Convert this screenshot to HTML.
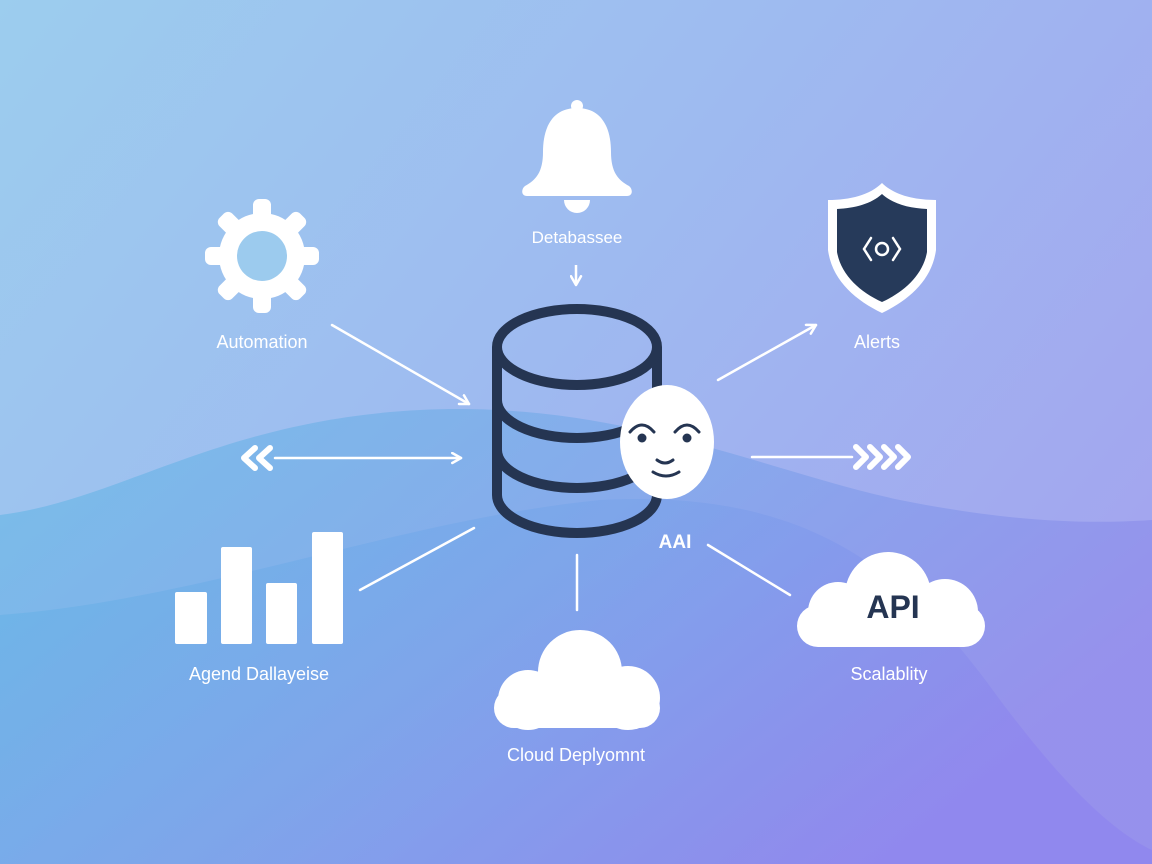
<!DOCTYPE html>
<html><head><meta charset="utf-8"><style>
html,body{margin:0;padding:0;width:1152px;height:864px;overflow:hidden}
svg{display:block}
text{font-family:"Liberation Sans",sans-serif;fill:#fff}
</style></head><body>
<svg width="1152" height="864" viewBox="0 0 1152 864" xmlns="http://www.w3.org/2000/svg">
<defs>
<linearGradient id="bg" x1="0" y1="0" x2="1" y2="0.6">
<stop offset="0" stop-color="#9ccdee"/><stop offset="0.5" stop-color="#9ebbf0"/><stop offset="1" stop-color="#a3a6ef"/>
</linearGradient>
<linearGradient id="low" x1="0" y1="0" x2="1" y2="0.5">
<stop offset="0" stop-color="#6fbde7"/><stop offset="0.5" stop-color="#80a8ea"/><stop offset="1" stop-color="#938cec"/>
</linearGradient>
<linearGradient id="low2" x1="0" y1="0" x2="1" y2="0.4">
<stop offset="0" stop-color="#5db5e4"/><stop offset="0.5" stop-color="#76a0ea"/><stop offset="1" stop-color="#8b80ee"/>
</linearGradient>
<marker id="ah" viewBox="0 0 10 10" refX="8" refY="5" markerWidth="5" markerHeight="5" orient="auto">
<path d="M1 1 L8 5 L1 9" fill="none" stroke="#fff" stroke-width="2" stroke-linecap="round" stroke-linejoin="round"/>
</marker>
</defs>
<rect width="1152" height="864" fill="url(#bg)"/>
<path d="M0 515 C120 500 220 420 420 410 C620 400 760 470 900 500 C1000 520 1080 525 1152 520 L1152 864 L0 864 Z" fill="url(#low)" opacity="0.8"/>
<path d="M0 615 C200 600 400 520 600 500 C800 490 900 560 1000 700 C1060 780 1110 830 1152 850 L1152 864 L0 864 Z" fill="url(#low2)" opacity="0.5"/>

<!-- Bell -->
<g fill="#fff">
<circle cx="577" cy="106" r="6"/>
<path d="M577 108 C552 108 543 128 543 152 C543 172 536 180 525 186 C521 189 521 196 527 196 L627 196 C633 196 633 189 629 186 C618 180 611 172 611 152 C611 128 602 108 577 108 Z"/>
<path d="M564 200 A13 13 0 0 0 590 200 Z"/>
</g>
<text x="577" y="243" font-size="17" text-anchor="middle">Detabassee</text>
<line x1="576" y1="265" x2="576" y2="285" stroke="#fff" stroke-width="2.5" marker-end="url(#ah)"/>

<!-- Gear -->
<g transform="translate(262,256)" fill="#fff">
<g id="t"><rect x="-9" y="-57" width="18" height="24" rx="6"/></g>
<use href="#t" transform="rotate(45)"/><use href="#t" transform="rotate(90)"/><use href="#t" transform="rotate(135)"/>
<use href="#t" transform="rotate(180)"/><use href="#t" transform="rotate(225)"/><use href="#t" transform="rotate(270)"/><use href="#t" transform="rotate(315)"/>
<circle r="43"/>
<circle r="25" fill="#9ccbee"/>
</g>
<text x="262" y="348" font-size="18" text-anchor="middle">Automation</text>

<!-- Shield -->
<path d="M882 183 C870 195 850 200 828 200 L828 250 C832 280 855 300 882 313 C909 300 932 280 936 250 L936 200 C914 200 894 195 882 183 Z" fill="#fff"/>
<path d="M882 194 C871 204 855 208 837 209 L837 252 C841 275 860 292 882 302 C904 292 923 275 927 252 L927 209 C909 208 893 204 882 194 Z" fill="#263a5a"/>
<g fill="none" stroke="#fff" stroke-width="2.5" stroke-linecap="round">
<path d="M871 238 L864 249 L871 260"/><path d="M893 238 L900 249 L893 260"/><circle cx="882" cy="249" r="6"/>
</g>
<text x="877" y="348" font-size="18" text-anchor="middle">Alerts</text>

<!-- Connectors -->
<g stroke="#fff" stroke-width="2.5" stroke-linecap="round" fill="none">
<line x1="332" y1="325" x2="469" y2="404" marker-end="url(#ah)"/>
<line x1="718" y1="380" x2="816" y2="325" marker-end="url(#ah)"/>
<line x1="275" y1="458" x2="461" y2="458" marker-end="url(#ah)"/>
<line x1="752" y1="457" x2="852" y2="457"/>
<line x1="360" y1="590" x2="474" y2="528"/>
<line x1="577" y1="555" x2="577" y2="610"/>
<line x1="708" y1="545" x2="790" y2="595"/>
</g>
<g stroke="#fff" stroke-width="6" stroke-linecap="round" stroke-linejoin="round" fill="none">
<path d="M255 448 L244 458 L255 468"/><path d="M270 448 L259 458 L270 468"/>
<path d="M856 447 L866 457 L856 467"/><path d="M870 447 L880 457 L870 467"/><path d="M884 447 L894 457 L884 467"/><path d="M898 447 L908 457 L898 467"/>
</g>

<!-- Database -->
<g fill="none" stroke="#253552" stroke-width="10">
<path d="M497 347 L497 495 A80 38 0 0 0 657 495 L657 347"/>
<ellipse cx="577" cy="347" rx="80" ry="38"/>
<path d="M497 400 A80 38 0 0 0 657 400"/>
<path d="M497 450 A80 38 0 0 0 657 450"/>
</g>
<!-- Face -->
<ellipse cx="667" cy="442" rx="47" ry="57" fill="#fff"/>
<g fill="none" stroke="#253552" stroke-width="3" stroke-linecap="round">
<path d="M630 432 Q642 418 654 432"/><path d="M675 432 Q687 418 699 432"/>
<path d="M657 460 Q665 466 673 460"/><path d="M653 472 Q666 480 679 472"/>
</g>
<circle cx="642" cy="438" r="4.5" fill="#253552"/><circle cx="687" cy="438" r="4.5" fill="#253552"/>
<text x="675" y="548" font-size="19" font-weight="bold" text-anchor="middle">AAI</text>

<!-- Bars -->
<g fill="#fff">
<rect x="175" y="592" width="32" height="52" rx="2"/>
<rect x="221" y="547" width="31" height="97" rx="2"/>
<rect x="266" y="583" width="31" height="61" rx="2"/>
<rect x="312" y="532" width="31" height="112" rx="2"/>
</g>
<text x="259" y="680" font-size="18" text-anchor="middle">Agend Dallayeise</text>

<!-- Cloud -->
<g fill="#fff">
<circle cx="580" cy="672" r="42"/>
<circle cx="528" cy="700" r="30"/>
<circle cx="628" cy="698" r="32"/>
<rect x="494" y="688" width="166" height="40" rx="20"/>
</g>
<text x="576" y="761" font-size="18" text-anchor="middle">Cloud Deplyomnt</text>

<!-- API cloud -->
<g fill="#fff">
<circle cx="888" cy="595" r="43"/>
<circle cx="838" cy="612" r="30"/>
<circle cx="945" cy="612" r="33"/>
<rect x="797" y="605" width="188" height="42" rx="21"/>
</g>
<text x="893" y="618" font-size="32" font-weight="bold" text-anchor="middle" style="fill:#253552">API</text>
<text x="889" y="680" font-size="18" text-anchor="middle">Scalablity</text>
</svg>
</body></html>
